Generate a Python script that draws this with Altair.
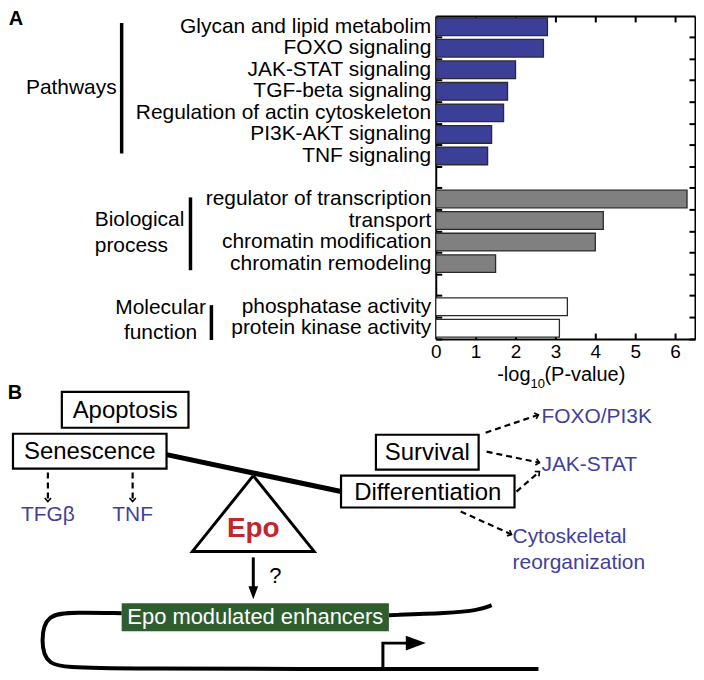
import math
import altair as alt
import pandas as pd

# ---------------- Panel A data ----------------
pathway_terms = ["Glycan and lipid metabolim", "FOXO signaling", "JAK-STAT signaling",
                 "TGF-beta signaling", "Regulation of actin cytoskeleton",
                 "PI3K-AKT signaling", "TNF signaling"]
pathway_values = [2.8, 2.7, 2.0, 1.8, 1.7, 1.4, 1.3]
bp_terms = ["regulator of transcription", "transport", "chromatin modification",
            "chromatin remodeling"]
bp_values = [6.3, 4.2, 4.0, 1.5]
mf_terms = ["phosphatase activity", "protein kinase activity"]
mf_values = [3.3, 3.1]
group_names = ["Pathways", "Biological process", "Molecular function"]
group_fills = ["#3b3f98", "#808080", "#ffffff"]
gap_rows = [" ", "  "]
x_tick_values = [0, 1, 2, 3, 4, 5, 6]
x_max = 6.5

# group label texts
group_text = ["Pathways", "Biological", "process", "Molecular", "function"]
title_parts = ["-log", "10", "(P-value)"]
panel_letters = ["A", "B"]

# ---------------- Panel B texts ----------------
box_text = ["Apoptosis", "Senescence", "Survival", "Differentiation"]
blue_text = ["TFG\u03b2", "TNF", "FOXO/PI3K", "JAK-STAT", "Cytoskeletal", "reorganization"]
enhancer_text = ["Epo modulated enhancers"]
epo_text = ["Epo"]
question_text = ["?"]

# ---------------- layout (reference pixel coordinates) ----------------
OFF = 8
W, H = 690, 666
A_left, A_right, A_top, A_bottom = 437, 697, 15, 339

group_lx = [117, 95, 95, 161, 161]
group_ly = [87, 220, 246, 308, 333]
group_align = ["right", "left", "left", "center", "center"]
bracket_x = [122, 191, 212]
bracket_y1 = [22, 197, 305]
bracket_y2 = [153, 270, 340]
letter_x = [16, 15]
letter_y = [18, 393]
title_x = [532, 532, 546]
title_y = [375, 384, 375]
title_size = [20, 13, 20]
title_align = ["right", "left", "left"]

box_x1 = [62, 13, 377, 342]
box_x2 = [189, 167, 480, 516]
box_y1 = [392, 434, 435, 476]
box_y2 = [428, 469, 470, 508]

blue_x = [48, 133, 543, 543, 514, 514]
blue_y = [516, 516, 417, 465, 538, 564]
blue_align = ["center", "center", "left", "left", "left", "left"]

dash_x1 = [48, 133, 487, 488, 518, 462]
dash_y1 = [473, 473, 433, 452, 492, 512]
dash_x2 = [48, 133, 540, 541, 541, 513]
dash_y2 = [502, 502, 415, 463, 472, 535]

beam_x = [167, 342]
beam_y = [455, 492]
tri_x = [254, 193, 315, 254]
tri_y = [476, 552, 552, 476]
epo_xy = [254, 530]
down_x = [254, 254]
down_y = [558, 592]
down_tip = [254, 600]
q_xy = [276, 577]
green_box = [122, 390, 604, 632]
loop_x = [122, 75, 46, 41, 46, 80, 540]
loop_y = [614, 613, 615, 641, 667, 670, 670]
right_x = [390, 450, 480, 493]
right_y = [616, 614, 611, 606]
prom_x = [384, 384, 412]
prom_y = [670, 644, 644]
prom_tip = [427, 644]

FONT = "Liberation Sans"
BLUE_TXT = "#3f3f9c"

# ---------------- scales ----------------
def xD():
    return alt.Scale(domain=[OFF, OFF + W], range=[0, W], nice=False, zero=False)


def yD():
    return alt.Scale(domain=[OFF, OFF + H], range=[0, H], nice=False, zero=False)


def xA():
    return alt.Scale(domain=[0, x_max], range=[A_left - OFF, A_right - OFF], nice=False)


rows = pathway_terms + [gap_rows[0]] + bp_terms + [gap_rows[1]] + mf_terms


def yA(pad):
    return alt.Scale(domain=rows, range=[A_top - OFF, A_bottom - OFF],
                     paddingInner=pad, paddingOuter=pad / 2)


dfA = pd.DataFrame({
    "term": pathway_terms + bp_terms + mf_terms,
    "value": pathway_values + bp_values + mf_values,
    "group": [group_names[0]] * len(pathway_terms) + [group_names[1]] * len(bp_terms)
             + [group_names[2]] * len(mf_terms),
})

ax = dict(grid=False, title=None, domainColor="black", tickColor="black",
          domainWidth=2, tickWidth=2, tickSize=6, labelFont=FONT, labelColor="black")

bars = alt.Chart(dfA).mark_bar(stroke="#2b2b2b", strokeWidth=1.3).encode(
    x=alt.X("value:Q", scale=xA(),
            axis=alt.Axis(orient="bottom", offset=(A_bottom - OFF) - H, values=x_tick_values,
                          ticks=False, labelFontSize=19, labelPadding=4, labelFlush=False, **ax)),
    y=alt.Y("term:N", scale=yA(0.18), sort=rows,
            axis=alt.Axis(orient="left", offset=-(A_left - OFF), ticks=False, labelFontSize=21,
                          labelPadding=5, labelLimit=500, **ax)),
    fill=alt.Fill("group:N", scale=alt.Scale(domain=group_names, range=group_fills), legend=None),
)

ticks_in = alt.Chart(dfA).mark_bar(opacity=0).encode(
    x=alt.X("value:Q", scale=xA(),
            axis=alt.Axis(orient="top", offset=-(A_bottom - OFF), values=x_tick_values[1:],
                          labels=False, domain=False, **ax)),
    y=alt.Y("term:N", scale=yA(0), sort=rows,
            axis=alt.Axis(orient="right", offset=(A_left - OFF) - W, bandPosition=1,
                          labels=False, domain=False, **ax)),
)

frame = alt.Chart(dfA).mark_bar(opacity=0).encode(
    x=alt.X("value:Q", scale=xA(),
            axis=alt.Axis(orient="bottom", offset=(A_top - OFF) - H, values=x_tick_values[1:],
                          labels=False, **ax)),
    y=alt.Y("term:N", scale=yA(0), sort=rows,
            axis=alt.Axis(orient="left", offset=-(A_right - OFF), bandPosition=1,
                          labels=False, **ax)),
)


def XY(xf="x", yf="y"):
    return dict(x=alt.X(f"{xf}:Q", scale=xD(), axis=None),
                y=alt.Y(f"{yf}:Q", scale=yD(), axis=None))


def text_layer(texts, xs, ys, size, color="black", weight="normal", aligns=None):
    df = pd.DataFrame({"t": texts, "x": xs, "y": ys,
                       "a": aligns if aligns else ["center"] * len(texts)})
    layers = []
    for a in sorted(set(df["a"])):
        sub = df[df["a"] == a]
        layers.append(alt.Chart(sub).mark_text(
            font=FONT, fontSize=size, color=color, fontWeight=weight, align=a,
            baseline="middle").encode(text="t:N", **XY()))
    return layers


def rule_layer(x1, y1, x2, y2, width, dash=None, color="black"):
    df = pd.DataFrame({"x": x1, "y": y1, "x2": x2, "y2": y2})
    kw = dict(color=color, strokeWidth=width, strokeCap="butt")
    if dash:
        kw["strokeDash"] = dash
    return alt.Chart(df).mark_rule(**kw).encode(
        x2=alt.X2("x2:Q"), y2=alt.Y2("y2:Q"), **XY())


def line_layer(xs, ys, width, interp="linear", join="round"):
    df = pd.DataFrame({"x": xs, "y": ys, "i": list(range(len(xs)))})
    return alt.Chart(df).mark_line(color="black", strokeWidth=width, interpolate=interp,
                                   strokeJoin=join, strokeCap="butt").encode(
        order=alt.Order("i:Q"), **XY())


def head_layer(xs, ys, angles, shape, size, filled, width=1.8):
    df = pd.DataFrame({"x": xs, "y": ys, "ang": angles})
    return alt.Chart(df).mark_point(shape=shape, size=size, filled=filled, color="black",
                                    strokeWidth=width, opacity=1).encode(
        angle=alt.Angle("ang:Q", scale=None), **XY())


layers = []
# Panel A decorations
layers.append(rule_layer(bracket_x, bracket_y1, bracket_x, bracket_y2, 3.5))
for a in ["right", "left", "center"]:
    idx = [i for i in range(len(group_text)) if group_align[i] == a]
    layers += text_layer([group_text[i] for i in idx], [group_lx[i] for i in idx],
                         [group_ly[i] for i in idx], 21, aligns=[a] * len(idx))
layers += text_layer(panel_letters, letter_x, letter_y, 20, weight="bold")
for i in range(3):
    layers += text_layer([title_parts[i]], [title_x[i]], [title_y[i]], title_size[i],
                         aligns=[title_align[i]])
layers += [bars, ticks_in, frame]

# Panel B
layers.append(line_layer(loop_x, loop_y, 4, interp="basis"))
layers.append(line_layer(right_x, right_y, 4, interp="basis"))
layers.append(line_layer(prom_x, prom_y, 3, join="miter"))
layers.append(head_layer([prom_tip[0]], [prom_tip[1]], [0], "M0,0L-1.6,-0.6L-1.6,0.6Z", 625, True, 0))
layers.append(alt.Chart(pd.DataFrame({"x": [green_box[0]], "x2": [green_box[1]],
                                      "y": [green_box[2]], "y2": [green_box[3]]}))
              .mark_rect(color="#2e5e30").encode(x2="x2:Q", y2="y2:Q", **XY()))
layers += text_layer(enhancer_text, [(green_box[0] + green_box[1]) / 2],
                     [(green_box[2] + green_box[3]) / 2], 22, color="white")

layers.append(rule_layer([beam_x[0]], [beam_y[0]], [beam_x[1]], [beam_y[1]], 5))
layers.append(alt.Chart(pd.DataFrame({"x": box_x1, "x2": box_x2, "y": box_y1, "y2": box_y2}))
              .mark_rect(fill="white", stroke="black", strokeWidth=2.2)
              .encode(x2="x2:Q", y2="y2:Q", **XY()))
layers += text_layer(box_text, [(a + b) / 2 for a, b in zip(box_x1, box_x2)],
                     [(a + b) / 2 + 1 for a, b in zip(box_y1, box_y2)], 24)

layers.append(rule_layer(dash_x1, dash_y1, dash_x2, dash_y2, 2.2, dash=[6, 4]))
dash_ang = [math.degrees(math.atan2(y2 - y1, x2 - x1)) % 360
            for x1, y1, x2, y2 in zip(dash_x1, dash_y1, dash_x2, dash_y2)]
layers.append(head_layer(dash_x2, dash_y2, dash_ang, "M-1,-0.9L0,0L-1,0.9", 50, False, 1.6))

layers.append(line_layer(tri_x, tri_y, 3, join="miter"))
layers += text_layer(epo_text, [epo_xy[0]], [epo_xy[1]], 28, color="#c4262e", weight="bold")
layers.append(rule_layer([down_x[0]], [down_y[0]], [down_x[1]], [down_y[1]], 3))
layers.append(head_layer([down_tip[0]], [down_tip[1]], [90], "M0,0L-1.6,-0.6L-1.6,0.6Z", 262, True, 0))
layers += text_layer(question_text, [q_xy[0]], [q_xy[1]], 22)

for a in ["center", "left"]:
    idx = [i for i in range(len(blue_text)) if blue_align[i] == a]
    layers += text_layer([blue_text[i] for i in idx], [blue_x[i] for i in idx],
                         [blue_y[i] for i in idx], 21, color=BLUE_TXT, aligns=[a] * len(idx))

chart = (alt.layer(*layers)
         .resolve_scale(x="independent", y="independent")
         .properties(width=W, height=H, autosize=alt.AutoSizeParams(type="none"), padding=0)
         .configure_view(stroke=None))

chart.save("out.html", embed_options={"renderer": "svg", "actions": False})
